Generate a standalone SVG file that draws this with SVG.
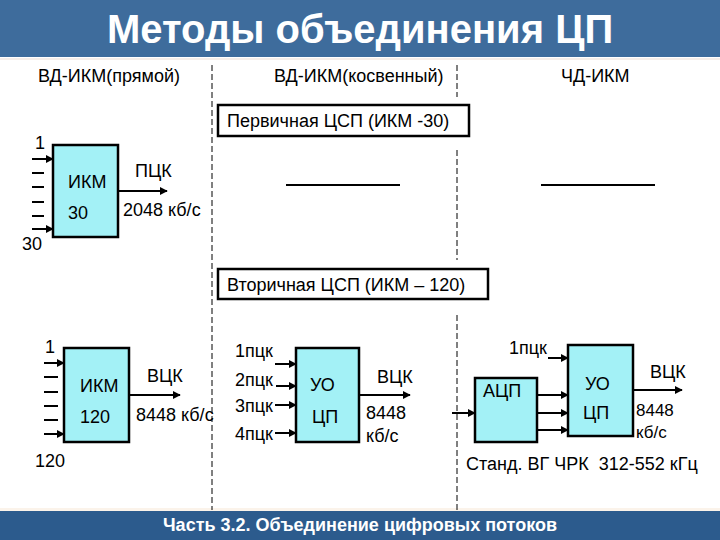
<svg xmlns="http://www.w3.org/2000/svg" width="720" height="540" viewBox="0 0 720 540">
<style>
.t{font-family:"Liberation Sans",Arial,sans-serif;fill:#000;font-size:18px}
.sm{font-size:17px}
.box{fill:#A3F1F6;stroke:#000;stroke-width:2.5}
.frame{fill:#fff;stroke:#000;stroke-width:2.5}
.ln{stroke:#000;stroke-width:2;fill:none}
.ar{stroke:#000;stroke-width:2;fill:none;marker-end:url(#ah)}
.dash{stroke:#000;stroke-width:1;stroke-dasharray:6,3;fill:none}
.hd{font-family:"Liberation Sans",Arial,sans-serif;font-weight:bold;fill:#fff}
</style>
<defs>
<marker id="ah" viewBox="0 0 10 10" refX="9" refY="5" markerWidth="4" markerHeight="4" orient="auto" markerUnits="strokeWidth">
<path d="M0,0 L10,5 L0,10 z" fill="#000"/>
</marker>
</defs>
<rect width="720" height="540" fill="#fff"/>
<g id="header">
<rect x="0" y="0" width="720" height="57" fill="#3E6C9C"/>
<rect x="0" y="58" width="720" height="2" fill="#F6EEE9"/>
<text class="hd" x="360" y="43" font-size="40" text-anchor="middle">Методы объединения ЦП</text>
</g>
<g id="footer">
<rect x="0" y="508" width="720" height="3" fill="#FBF3EA"/>
<rect x="0" y="511" width="720" height="29" fill="#2C5B8D"/>
<text class="hd" x="360" y="531" font-size="18" text-anchor="middle">Часть 3.2. Объединение цифровых потоков</text>
</g>
<g id="columns">
<text class="t" x="38" y="82">ВД-ИКМ(прямой)</text>
<text class="t" x="274" y="82">ВД-ИКМ(косвенный)</text>
<text class="t" x="561" y="82">ЧД-ИКМ</text>
<line class="dash" x1="212" y1="65" x2="212" y2="510"/>
<line class="dash" x1="457" y1="65" x2="457" y2="97"/>
<line class="dash" x1="457" y1="150" x2="457" y2="260"/>
<line class="dash" x1="457" y1="315" x2="457" y2="510"/>
</g>
<g id="primary-label">
<rect class="frame" x="218" y="105" width="251" height="31"/>
<text class="t" x="227" y="127">Первичная ЦСП (ИКМ -30)</text>
</g>
<g id="secondary-label">
<rect class="frame" x="218" y="269" width="270" height="30"/>
<text class="t" x="227" y="291">Вторичная ЦСП (ИКМ – 120)</text>
</g>
<g id="ikm30">
<rect class="box" x="53" y="145" width="65" height="92"/>
<text class="t" x="68" y="188">ИКМ</text>
<text class="t" x="68" y="219">30</text>
</g>
<g id="ikm120">
<rect class="box" x="64" y="348" width="65" height="94"/>
<text class="t" x="80" y="392">ИКМ</text>
<text class="t" x="80" y="423">120</text>
</g>
<g id="uo1">
<rect class="box" x="296" y="348" width="63" height="94"/>
<text class="t" x="310" y="391">УО</text>
<text class="t" x="312" y="423">ЦП</text>
</g>
<g id="adc">
<rect class="box" x="475" y="378" width="62" height="64"/>
<text class="t" x="483" y="397">АЦП</text>
</g>
<g id="uo2">
<rect class="box" x="568" y="345" width="65" height="91"/>
<text class="t" x="585" y="390">УО</text>
<text class="t" x="583" y="419">ЦП</text>
</g>
<g id="connectors">
<line class="ar" x1="32" y1="159" x2="53" y2="159"/>
<line class="ln" x1="32" y1="173" x2="44" y2="173"/>
<line class="ln" x1="32" y1="187" x2="44" y2="187"/>
<line class="ln" x1="32" y1="202" x2="44" y2="202"/>
<line class="ln" x1="32" y1="216" x2="44" y2="216"/>
<line class="ar" x1="32" y1="229" x2="53" y2="229"/>
<line class="ar" x1="118" y1="191" x2="167" y2="191"/>
<line class="ln" x1="286" y1="185" x2="400" y2="185"/>
<line class="ln" x1="541" y1="185" x2="655" y2="185"/>
<line class="ar" x1="44" y1="363" x2="64" y2="363"/>
<line class="ln" x1="44" y1="377" x2="58" y2="377"/>
<line class="ln" x1="44" y1="392" x2="58" y2="392"/>
<line class="ln" x1="44" y1="406" x2="58" y2="406"/>
<line class="ln" x1="44" y1="420" x2="58" y2="420"/>
<line class="ar" x1="44" y1="434" x2="64" y2="434"/>
<line class="ar" x1="129" y1="395" x2="180" y2="395"/>
<line class="ar" x1="275" y1="364" x2="296" y2="364"/>
<line class="ar" x1="276" y1="386" x2="296" y2="386"/>
<line class="ar" x1="275" y1="405" x2="296" y2="405"/>
<line class="ar" x1="275" y1="433" x2="296" y2="433"/>
<line class="ar" x1="359" y1="395" x2="410" y2="395"/>
<line class="ar" x1="452" y1="413" x2="475" y2="413"/>
<line class="ar" x1="548" y1="358" x2="568" y2="358"/>
<line class="ar" x1="537" y1="395" x2="568" y2="395"/>
<line class="ar" x1="537" y1="413" x2="568" y2="413"/>
<line class="ar" x1="537" y1="430" x2="568" y2="430"/>
<line class="ar" x1="633" y1="390" x2="682" y2="390"/>
</g>
<g id="labels">
<text class="t" x="35" y="149">1</text>
<text class="t" x="22" y="250">30</text>
<text class="t" x="135" y="177">ПЦК</text>
<text class="t" x="123" y="216">2048 кб/с</text>
<text class="t" x="45" y="353">1</text>
<text class="t" x="35" y="467">120</text>
<text class="t" x="147" y="382">ВЦК</text>
<text class="t" x="136" y="421">8448 кб/с</text>
<text class="t" x="235" y="357">1пцк</text>
<text class="t" x="235" y="386">2пцк</text>
<text class="t" x="235" y="412">3пцк</text>
<text class="t" x="235" y="440">4пцк</text>
<text class="t" x="377" y="383">ВЦК</text>
<text class="t" x="366" y="419">8448</text>
<text class="t" x="366" y="442">кб/с</text>
<text class="t" x="509" y="354">1пцк</text>
<text class="t" x="650" y="378">ВЦК</text>
<text class="t sm" x="636" y="416">8448</text>
<text class="t sm" x="636" y="438">кб/с</text>
<text class="t" x="466" y="470" xml:space="preserve" style="white-space:pre">Станд. ВГ ЧРК  312-552 кГц</text>
</g>
</svg>
